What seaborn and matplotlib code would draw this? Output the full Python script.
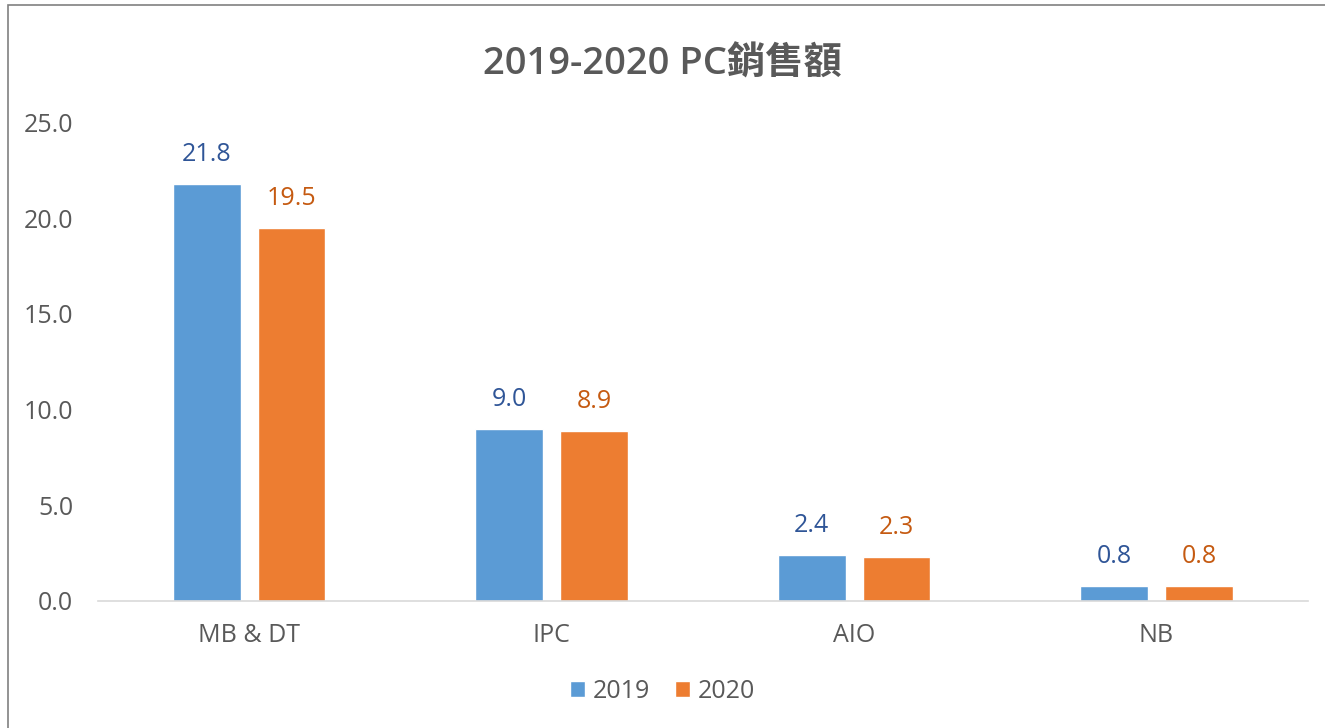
import matplotlib
matplotlib.use("Agg")
import matplotlib.pyplot as plt
import matplotlib.patches as mpatches
import seaborn as sns
import pandas as pd

# data
categories = ["MB & DT", "IPC", "AIO", "NB"]
years = ["2019", "2020"]
sales_2019 = [21.8, 9.0, 2.4, 0.8]
sales_2020 = [19.5, 8.9, 2.3, 0.8]

df = pd.DataFrame({
    "category": categories * 2,
    "year": [years[0]] * len(categories) + [years[1]] * len(categories),
    "sales": sales_2019 + sales_2020,
})

sns.set_style("white")
plt.rcParams["font.family"] = ["Open Sans", "Noto Sans CJK TC", "DejaVu Sans"]

bar_colors = ["#5B9BD5", "#ED7D31"]
label_colors = ["#2F5597", "#C55A11"]
grey = "#595959"
fs = 18

fig = plt.figure(figsize=(13.25, 7.28), dpi=100)
ax = fig.add_axes([0.074, 0.1745, 0.913, 0.657])

sns.barplot(data=df, x="category", y="sales", hue="year", order=categories,
            hue_order=years, palette=bar_colors, saturation=1, width=0.56,
            gap=0.2, edgecolor="white", linewidth=1, ax=ax)

for cont, col in zip(ax.containers, label_colors):
    ax.bar_label(cont, fmt="%.1f", padding=12, color=col, fontsize=fs)

ax.set_ylim(0, 25)
ax.set_yticks([0, 5, 10, 15, 20, 25])
ax.set_yticklabels([f"{v:.1f}" for v in [0, 5, 10, 15, 20, 25]])
ax.tick_params(axis="both", length=0, labelsize=fs, labelcolor=grey)
ax.tick_params(axis="x", pad=16)
ax.tick_params(axis="y", pad=18)
ax.set_xlabel("")
ax.set_ylabel("")
for s in ["top", "right", "left"]:
    ax.spines[s].set_visible(False)
ax.spines["bottom"].set_color("#D9D9D9")
ax.spines["bottom"].set_linewidth(1.2)

handles, labels = ax.get_legend_handles_labels()
ax.legend(handles, labels, loc="center", bbox_to_anchor=(0.5, 0.05),
          bbox_transform=fig.transFigure, ncol=2, frameon=False,
          fontsize=fs, labelcolor=grey, handlelength=0.6, handleheight=0.6,
          handletextpad=0.3, columnspacing=1.0)

fig.text(0.5, 0.912, "2019-2020 PC銷售額", ha="center", va="center",
         fontsize=27.5, color=grey, fontweight="semibold")

# chart frame (only the left and top edges are inside the picture)
fig.patches.append(mpatches.Rectangle((8 / 1325, -0.1), 1.2, 1 - 5 / 728 + 0.1,
                                      transform=fig.transFigure, fill=False,
                                      edgecolor="#808080", linewidth=1.2))

fig.savefig("out.png", dpi=100, facecolor="white")
